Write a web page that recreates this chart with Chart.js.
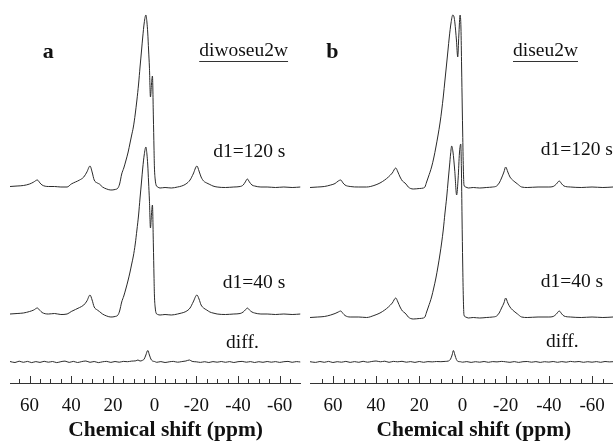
<!DOCTYPE html>
<html>
<head>
<meta charset="utf-8">
<script src="https://cdn.jsdelivr.net/npm/chart.js@4/dist/chart.umd.min.js"></script>
<style>
  html, body { margin: 0; padding: 0; background: #fff; }
  #wrap { position: relative; width: 613px; height: 441px; }
  #wrap canvas { position: absolute; top: 0; }
</style>
</head>
<body>
<div id="wrap">
  <canvas id="chartA" width="306" height="441" style="left:0"></canvas>
  <canvas id="chartB" width="307" height="441" style="left:306px"></canvas>
</div>
<script>
// chemical shift axis (ppm)
const tickLabels = [60, 40, 20, 0, -20, -40, -60];
const minorTicks = [65, 55, 50, 45, 35, 30, 25, 15, 10, 5, -5, -10, -15, -25, -30, -35, -45, -50, -55, -65];
const traceNames = ['d1=120 s', 'd1=40 s', 'diff.'];
const axisTitle = 'Chemical shift (ppm)';

// panel a : diwoseu2w  -  [ppm, intensity]
const aTop = [[69.4,1.5],[66,2],[63,2.5],[60,4],[58,6],[56.3,8],[55,5],[54,3],[51,1.5],[48,1.5],[45,1],[42,1],[40,4],[38,6],[36,8],[34,11],[32.5,16],[31,22],[30,16],[29,8],[27.5,5],[26.5,4],[25,1],[23,-1],[21,-2],[19,-1.5],[17.6,0],[16.8,4],[15.8,14],[14.8,20],[13.7,28],[12.7,36],[11.8,45],[11,53],[10.2,61],[9.3,74],[8.5,88],[7.7,104],[7,121],[6.3,137],[5.7,151],[5,165],[4.2,173],[3.7,166],[3.3,155],[2.9,138],[2.5,121],[2,91],[1.5,104],[1.05,112],[0.6,71],[0.3,40],[0.1,21],[-0.3,8],[-0.7,3],[-1.5,1],[-2.6,0],[-5,0.5],[-8,0],[-11,1],[-13,2],[-15,4],[-17,8],[-18.5,14],[-20.3,22],[-21.3,17],[-22.3,11],[-23.5,7],[-25,5],[-26.5,3.5],[-28,2],[-30,1],[-34,0.5],[-38,1],[-41,1.5],[-42.5,3],[-43.5,6],[-44.5,9],[-45.5,6],[-46.7,3],[-48,2],[-51,1],[-54,1],[-58,0.5],[-62,1],[-66,0.5],[-70,1]];
const aMid = [[69.4,1],[66,1.5],[63,2],[60,3.5],[58,5],[56.3,7],[55,4.5],[54,2.5],[51,1],[48,1.5],[45,0.5],[42,1],[40,3.5],[38,5.5],[36,7.5],[34,10],[32.5,14],[31,20],[30,15],[29,8],[27.5,5],[26.5,3.5],[25,1],[23,-1],[21,-2],[19,-1.5],[17.6,0],[16.8,4],[15.8,13],[14.8,19],[13.7,27],[12.7,35],[11.8,43],[11,51],[10.2,59],[9.3,71],[8.5,85],[7.7,100],[7,117],[6.3,133],[5.7,147],[5,160],[4.2,168],[3.7,161],[3.3,150],[2.9,133],[2.5,115],[2,87],[1.5,101],[1.05,110],[0.6,70],[0.3,39],[0.1,20],[-0.3,7],[-0.7,2],[-1.5,0.5],[-2.6,0],[-5,0.5],[-8,0],[-11,1],[-13,2],[-15,3.5],[-17,7],[-18.5,13],[-20.3,20],[-21.3,16],[-22.3,10],[-23.5,7],[-25,5],[-26.5,3],[-28,2],[-30,1],[-34,0.5],[-38,1],[-41,1.5],[-42.5,3],[-43.5,5],[-44.5,7],[-45.5,5],[-46.7,3],[-48,2],[-51,1],[-54,1],[-58,0.5],[-62,1],[-66,0.5],[-70,1]];
const aDiff = [[69.4,0.5],[67,-0.5],[65,0.8],[63,-0.3],[61,0.6],[59,-0.6],[57,0.4],[55,-0.4],[53,0.7],[51,-0.2],[49,0.5],[47,-0.6],[45,0.3],[43,0.9],[41,-0.4],[39,0.6],[37,-0.5],[35,0.4],[33,1],[31,-0.3],[29,0.5],[27,-0.6],[25,0.2],[23,0.6],[21,-0.4],[19,0.5],[17,-0.2],[15,0.6],[13,0.3],[11,0.9],[9,1.2],[8,2],[7,1],[6,1.5],[5,3],[4.2,7],[3.3,11.5],[2.5,7],[1.8,3],[1,1],[0,0.5],[-1,-0.3],[-3,0.4],[-5,-0.5],[-7,0.2],[-9,0.6],[-11,-0.2],[-13,0.4],[-15,1],[-16.7,2],[-18,0.6],[-20,0.2],[-22,-0.4],[-24,0.3],[-26,-0.5],[-28,0.4],[-30,-0.2],[-32,0.5],[-34,-0.3],[-36,0.4],[-38,-0.5],[-40,0.3],[-42,0.6],[-44,-0.2],[-46,0.4],[-48,-0.5],[-50,0.3],[-52,-0.3],[-54,0.5],[-56,-0.2],[-58,0.4],[-60,-0.4],[-62,0.3],[-64,0.6],[-66,-0.3],[-68,0.4],[-70,0]];

// panel b : diseu2w
const bTop = [[70.6,0.5],[67,1],[64,1.5],[61,3],[59,4.5],[57.5,7],[56.4,8],[55.3,5],[54.4,3],[52,1.5],[48,1],[44.4,1],[41,2.5],[38.2,5],[36,8],[34.3,11],[32.5,15],[30.9,20],[29.9,16],[28.9,11],[27.8,7],[26.6,5],[25.8,3],[25.1,1],[22.8,-1],[20,-0.5],[18.1,0],[17.4,1],[16.6,6],[15.8,11],[14.3,21],[13.3,30],[12.3,41],[11.3,53],[10.4,65],[9.6,78],[8.9,91],[8.1,108],[7.3,125],[6.7,138],[6.1,151],[5.3,165],[4.5,173],[3.9,171],[3.5,165],[2.8,148],[2.2,131],[1.7,152],[1.1,173],[0.7,160],[0.4,121],[0.1,80],[-0.1,55],[-0.4,20],[-0.7,3],[-1.5,1],[-2.7,0],[-5,0.5],[-8,0],[-11,0.5],[-14,1],[-15.8,2],[-17,5],[-18.1,10],[-19.2,16],[-20,21],[-21,16],[-22,11],[-23.2,8],[-24.3,6],[-25.5,4],[-27.4,1],[-30,0.5],[-35,1],[-40,1],[-42,1.5],[-43.5,4],[-44.8,7],[-46,4],[-47,2],[-50,1],[-55,0.5],[-60,1],[-65,0.5],[-69.7,1]];
const bMid = [[70.6,0.5],[67,1],[64,1.5],[61,3],[59,4.5],[57.5,6],[56.4,7],[55.3,4.5],[54.4,2.5],[52,1],[48,1],[44.4,0.5],[41,2.5],[38.2,5],[36,8],[34.3,11],[32.5,15],[30.9,20],[29.9,16],[28.9,11],[27.8,7],[26.6,5],[25.8,3],[25.1,1],[22.8,-1],[20,-0.5],[18.1,0],[17.4,1],[16.6,6],[15.8,11],[14.3,21],[13.3,30],[12.3,40],[11.3,52],[10.4,64],[9.6,76],[8.9,88],[8.1,105],[7.3,121],[6.6,138],[6,152],[5.5,164],[5,172],[4.4,166],[3.6,148],[2.7,123],[2,140],[1.4,165],[0.8,174],[0.5,150],[0.2,100],[-0.1,55],[-0.4,20],[-0.7,3],[-1.5,1],[-2.7,0],[-5,0.5],[-8,0],[-11,0.5],[-14,1],[-15.8,2],[-17,5],[-18.1,10],[-19.2,15],[-20,20],[-21,15],[-22,11],[-23.2,8],[-24.3,6],[-25.5,4],[-27.4,1],[-30,0.5],[-35,1],[-40,1],[-42,1.5],[-43.5,4],[-44.8,7],[-46,4],[-47,2],[-50,1],[-55,0.5],[-60,1],[-65,0.5],[-69.7,1]];
const bDiff = [[70.6,0.3],[68,-0.4],[66,0.5],[64,-0.3],[62,0.6],[60,-0.5],[58,0.3],[56,-0.2],[54,0.6],[52,-0.4],[50,0.4],[48,-0.3],[46,0.7],[44,-0.2],[42,0.5],[40,1],[38,0.2],[36,0.8],[34,-0.3],[32,0.6],[30,0.2],[28,0.7],[26,-0.2],[24,0.4],[22,-0.4],[20,0.5],[18,-0.3],[16,0.4],[14,0.1],[12,0.5],[10,0.3],[8,0.6],[6.5,1],[5.5,3],[4.8,7],[4.2,11.5],[3.5,7],[2.8,2.5],[2,0.5],[1,0.3],[0,-0.2],[-2,0.4],[-4,-0.4],[-6,0.3],[-8,-0.2],[-10,0.5],[-12,-0.3],[-14,0.4],[-16,0.1],[-18,0.6],[-20,0.2],[-22,-0.3],[-24,0.4],[-26,-0.4],[-28,0.3],[-30,0.5],[-32,-0.2],[-34,0.4],[-36,-0.4],[-38,0.3],[-40,-0.1],[-42,0.5],[-44,-0.3],[-46,0.4],[-48,-0.2],[-50,0.6],[-52,0.1],[-54,0.5],[-56,-0.3],[-58,0.3],[-60,-0.2],[-62,0.4],[-64,-0.3],[-66,0.5],[-68,0.1],[-69.7,0.3]];

const serif = '"Liberation Serif", "Times New Roman", serif';

// draws inward tick marks, the axis title and the text labels of each panel
const decor = {
  id: 'decor',
  afterDraw(chart, args, o) {
    const { ctx, scales: { x, y } } = chart;
    const base = y.getPixelForValue(0);
    ctx.save();
    ctx.strokeStyle = '#333';
    ctx.lineWidth = 1;
    ctx.beginPath();
    tickLabels.forEach(v => {
      const px = Math.round(x.getPixelForValue(v)) + 0.5;
      ctx.moveTo(px, base); ctx.lineTo(px, base - 7);
    });
    minorTicks.forEach(v => {
      const px = Math.round(x.getPixelForValue(v)) + 0.5;
      ctx.moveTo(px, base); ctx.lineTo(px, base - 4);
    });
    ctx.stroke();

    ctx.fillStyle = '#111';
    ctx.textBaseline = 'middle';
    ctx.font = 'bold 21.5px ' + serif;
    ctx.textAlign = 'center';
    ctx.fillText(axisTitle, x.getPixelForValue(-5.3), chart.height - 10.5);

    o.texts.forEach(t => {
      ctx.font = t.font;
      ctx.textAlign = t.align || 'left';
      const px = x.getPixelForValue(t.ppm);
      const py = y.getPixelForValue(t.v);
      ctx.fillText(t.text, px, py);
      if (t.underline) {
        const w = ctx.measureText(t.text).width;
        ctx.beginPath();
        ctx.moveTo(px, Math.round(py + 10) + 0.5);
        ctx.lineTo(px + w, Math.round(py + 10) + 0.5);
        ctx.stroke();
      }
    });
    ctx.restore();
  }
};

function trace(points, offset) {
  return {
    data: points.map(p => ({ x: p[0], y: p[1] + offset })),
    borderColor: '#2a2a2a',
    borderWidth: 1,
    pointRadius: 0,
    fill: false,
    cubicInterpolationMode: 'monotone'
  };
}

function makePanel(id, traces, offsets, range, pad, texts) {
  return new Chart(document.getElementById(id), {
    type: 'line',
    data: { datasets: traces.map((t, i) => trace(t, offsets[i])) },
    plugins: [decor],
    options: {
      responsive: false,
      animation: false,
      layout: { padding: { left: pad[0], right: pad[1], top: 0, bottom: 0 } },
      plugins: {
        legend: { display: false },
        tooltip: { enabled: false },
        decor: { texts: texts }
      },
      scales: {
        x: {
          type: 'linear',
          reverse: true,
          min: range[1],
          max: range[0],
          afterBuildTicks: s => { s.ticks = tickLabels.map(v => ({ value: v })); },
          afterFit: s => { s.height = 58; s.paddingLeft = 0; s.paddingRight = 0; },
          grid: { display: false, drawTicks: false },
          border: { display: true, color: '#333', width: 1 },
          ticks: {
            callback: v => String(v),
            color: '#111',
            padding: 14,
            maxRotation: 0,
            autoSkip: false,
            font: { family: serif, size: 19, lineHeight: 1 }
          }
        },
        y: { display: false, min: 0, max: 383 }
      }
    }
  });
}

const bigFont = 'bold 22px ' + serif;
const txtFont = '19.5px ' + serif;

makePanel('chartA', [aTop, aMid, aDiff], [195, 68, 21], [69.4, -70], [10, 5.5], [
  { text: 'a', ppm: 51.1, v: 331, font: bigFont, align: 'center' },
  { text: 'diwoseu2w', ppm: -21.4, v: 332.3, font: txtFont, underline: true },
  { text: traceNames[0], ppm: -28.1, v: 231.3, font: txtFont },
  { text: traceNames[1], ppm: -32.7, v: 100.3, font: txtFont },
  { text: traceNames[2], ppm: -34.3, v: 40.3, font: txtFont }
]);

makePanel('chartB', [bTop, bMid, bDiff], [195, 65, 21], [70.6, -69.7], [4, 0], [
  { text: 'b', ppm: 60.2, v: 331, font: bigFont, align: 'center' },
  { text: 'diseu2w', ppm: -23.4, v: 332.3, font: txtFont, underline: true },
  { text: traceNames[0], ppm: -36.2, v: 233, font: txtFont },
  { text: traceNames[1], ppm: -36.2, v: 101.3, font: txtFont },
  { text: traceNames[2], ppm: -38.7, v: 41.3, font: txtFont }
]);
</script>
</body>
</html>
